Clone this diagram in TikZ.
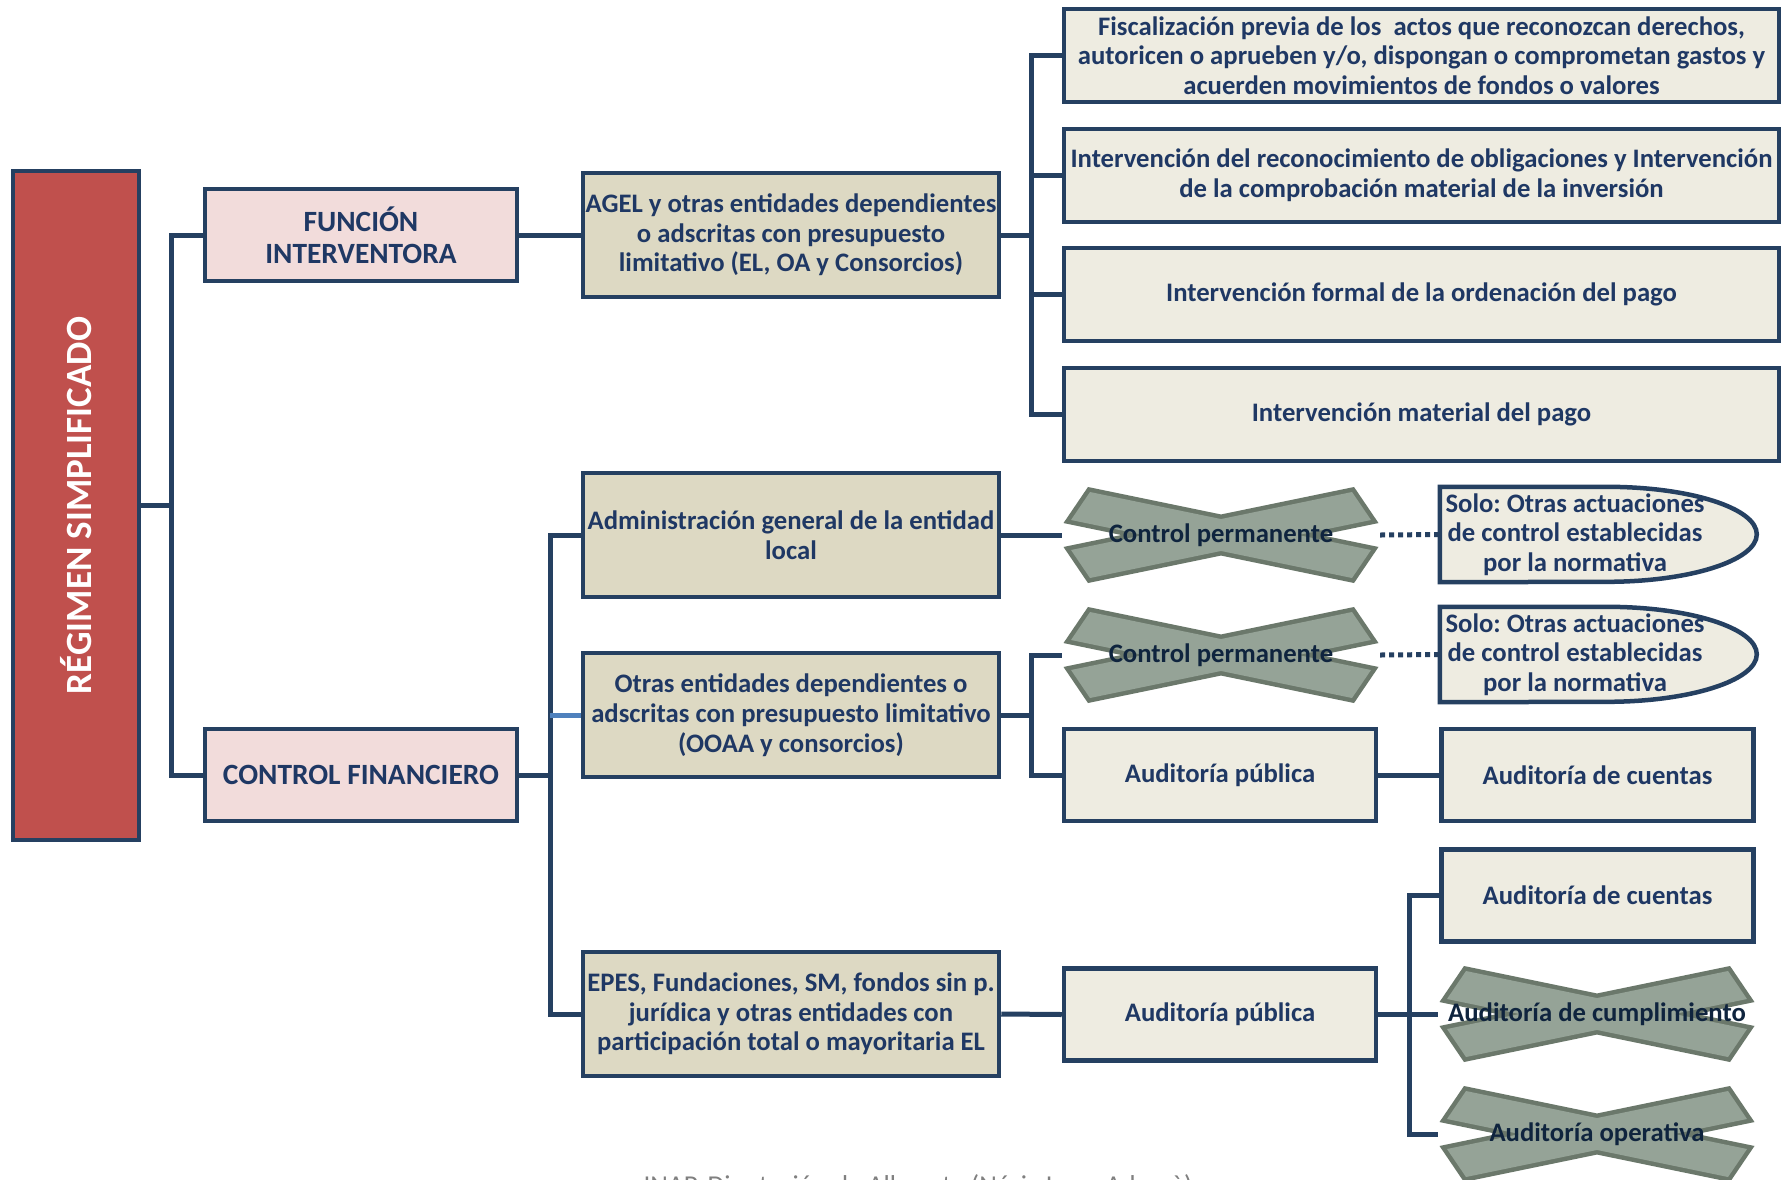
\documentclass[tikz,border=0pt]{standalone}
\usepackage{fontspec}
\setmainfont{Carlito}
\frenchspacing
\usetikzlibrary{backgrounds}
\definecolor{navy}{HTML}{254061}
\definecolor{ink}{HTML}{1F3864}
\definecolor{xink}{HTML}{0F243E}
\definecolor{regred}{HTML}{C0504D}
\definecolor{pinkfill}{HTML}{F2DCDB}
\definecolor{sand}{HTML}{DDD9C3}
\definecolor{paper}{HTML}{EEECE1}
\definecolor{xfill}{HTML}{95A397}
\definecolor{xedge}{HTML}{6B786B}
\definecolor{lightline}{HTML}{4F81BD}
\tikzstyle{txt}=[font=\bfseries\fontsize{26.7}{29.7}\selectfont, text=ink, align=center, inner sep=0pt]
\tikzstyle{regbox}=[txt, draw=navy, line width=4.5pt, fill=regred, text=white, minimum width=126pt, minimum height=669pt, font=\bfseries\fontsize{37}{44}\selectfont]
\tikzstyle{titlebox}=[txt, draw=navy, line width=4.5pt, fill=pinkfill, minimum width=312pt, minimum height=92pt, font=\bfseries\fontsize{29.4}{32}\selectfont]
\tikzstyle{midbox}=[txt, draw=navy, line width=4.5pt, fill=sand, minimum width=416pt, minimum height=124pt]
\tikzstyle{leafbox}=[txt, draw=navy, line width=4.5pt, fill=paper, minimum width=715pt, minimum height=93pt]
\tikzstyle{smallbox}=[txt, draw=navy, line width=4.5pt, fill=paper, minimum width=312pt, minimum height=92pt]
\tikzstyle{solo}=[txt, minimum width=270pt, minimum height=95pt]
\tikzstyle{soloshape}=[draw=navy, line width=4.5pt, fill=paper]
\tikzstyle{crossed}=[txt, text=xink, minimum width=318pt, minimum height=104pt]
\tikzstyle{conn}=[draw=navy, line width=5pt]
\tikzstyle{connlight}=[draw=lightline, line width=5pt]
\tikzstyle{dotline}=[draw=navy, line width=5pt, dash pattern=on 5pt off 4pt]
\tikzstyle{footer}=[font=\fontsize{27.3}{30}\selectfont, text=gray, inner sep=0pt]
\newcommand{\drawcross}[1]{
  \begin{scope}[shift={(#1.center)}]
    \draw[xedge, line width=9pt] (-131,-43) -- (150,15) -- (131,43) -- (-150,-15) -- cycle
      (131,-43) -- (-150,15) -- (-131,43) -- (150,-15) -- cycle;
    \fill[xfill] (-131,-43) -- (150,15) -- (131,43) -- (-150,-15) -- cycle;
    \fill[xfill] (131,-43) -- (-150,15) -- (-131,43) -- (150,-15) -- cycle;
  \end{scope}}

\begin{document}
\begin{tikzpicture}[x=1pt, y=-1pt]
          \useasboundingbox (0,0) rectangle (1789,1179);

          \node[regbox] at (76, 505.5) (reg) {\rotatebox{90}{RÉGIMEN SIMPLIFICADO}};
          \node[titlebox] at (361, 235) (fi) {FUNCIÓN\\INTERVENTORA};
          \node[titlebox] at (361, 775) (cf) {CONTROL FINANCIERO};

          \node[midbox] at (791, 235) (agel) {AGEL y otras entidades dependientes\\o adscritas con presupuesto\\limitativo (EL, OA y Consorcios)};
          \node[midbox] at (791, 535) (adm) {Administración general de la entidad\\local};
          \node[midbox] at (791, 715) (otras) {Otras entidades dependientes o\\adscritas con presupuesto limitativo\\(OOAA y consorcios)};
          \node[midbox] at (791, 1014) (epes) {EPES, Fundaciones, SM, fondos sin p.\\jurídica y otras entidades con\\participación total o mayoritaria EL};

          \node[leafbox] at (1421.5, 55.5) (fisc) {Fiscalización previa de los~ actos que reconozcan derechos,\\autoricen o aprueben y/o, dispongan o comprometan gastos y\\acuerden movimientos de fondos o valores};
          \node[leafbox] at (1421.5, 175.5) (irec) {Intervención del reconocimiento de obligaciones y Intervención\\de la comprobación material de la inversión};
          \node[leafbox] at (1421.5, 294.5) (ifor) {Intervención formal de la ordenación del pago};
          \node[leafbox] at (1421.5, 414.5) (imat) {Intervención material del pago};

          \node[crossed] at (1221, 535) (cp1) {Control permanente};
          \node[crossed] at (1221, 655) (cp2) {Control permanente};
          \node[solo] at (1575, 534.5) (s1) {Solo: Otras actuaciones\\de control establecidas\\por la normativa};
          \node[solo] at (1575, 654.5) (s2) {Solo: Otras actuaciones\\de control establecidas\\por la normativa};

          \node[smallbox] at (1220, 775) (ap1) {Auditoría pública};
          \node[smallbox] at (1597.5, 775) (ac1) {Auditoría de cuentas};
          \node[smallbox] at (1597.5, 895.5) (ac2) {Auditoría de cuentas};
          \node[smallbox] at (1220, 1014.5) (ap2) {Auditoría pública};
          \node[crossed] at (1597, 1014) (acu) {Auditoría de cumplimiento};
          \node[crossed] at (1597, 1134) (aop) {Auditoría operativa};

          \node[footer, anchor=base] at (918, 1194) (src) {INAP. Diputación de Albacete (Núria Luna Adrovà)};

          \coordinate (t0) at (171, 505.5);
          \coordinate (t1) at (1031, 235);
          \coordinate (t2) at (550, 775);
          \coordinate (t3) at (1031, 715);
          \coordinate (t4) at (1409, 1014.5);

          \begin{scope}[on background layer]
          \fill[white] (0,0) rectangle (1789,1179);
          \draw[conn] (reg.east) -- (t0);
          \draw[conn] (fi.west) -| (t0) |- (cf.west);
          \draw[conn] (fi.east) -- (agel.west);
          \draw[conn] (agel.east) -- (t1);
          \draw[conn] (fisc.west) -| (t1) |- (imat.west);
          \draw[conn] (t1 |- irec.west) -- (irec.west);
          \draw[conn] (t1 |- ifor.west) -- (ifor.west);
          \draw[conn] (cf.east) -- (t2);
          \draw[conn] (adm.west) -| (t2) |- (epes.west);
          \draw[connlight] (t2 |- otras.west) -- (otras.west);
          \draw[conn] (adm.east) -- (cp1.west);
          \draw[dotline] (cp1.east) -- (s1.west);
          \draw[conn] (otras.east) -- (t3);
          \draw[conn] (cp2.west) -| (t3) |- (ap1.west);
          \draw[dotline] (cp2.east) -- (s2.west);
          \draw[conn] (ap1.east) -- (ac1.west);
          \draw[conn] (epes.east) -- (ap2.west);
          \draw[conn] (ap2.east) -- (t4);
          \draw[conn] (ac2.west) -| (t4) |- (aop.west);
          \draw[conn] (t4 |- acu.west) -- (acu.west);
          \draw[soloshape] (s1.north west) -- ++(167,0) arc[start angle=90, end angle=-90, x radius=150pt, y radius=47.5pt] -- (s1.south west) -- cycle;
          \draw[soloshape] (s2.north west) -- ++(167,0) arc[start angle=90, end angle=-90, x radius=150pt, y radius=47.5pt] -- (s2.south west) -- cycle;
          \drawcross{cp1}
          \drawcross{cp2}
          \drawcross{acu}
          \drawcross{aop}
          \end{scope}
        \end{tikzpicture}
\end{document}
